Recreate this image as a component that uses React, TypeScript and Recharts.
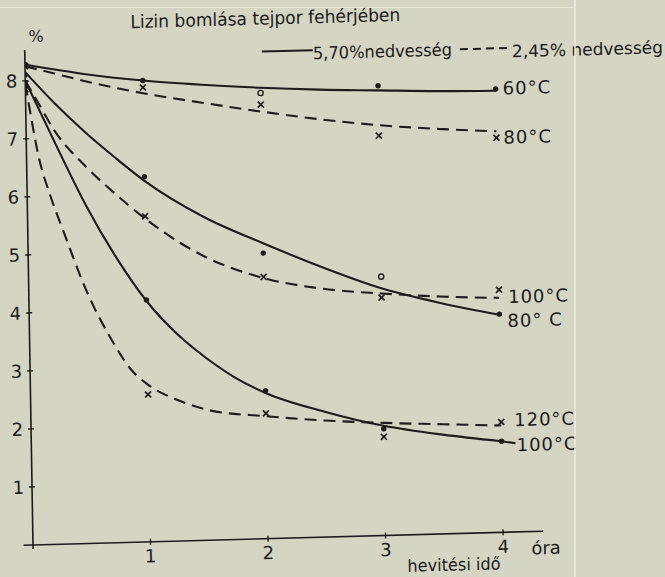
import React from 'react';
import { ComposedChart, Line, Scatter, XAxis, YAxis, ReferenceLine, LabelList } from 'recharts';

// ---------- data ----------
const xTicks = [1, 2, 3, 4];
const yTicks = [1, 2, 3, 4, 5, 6, 7, 8];
const measHours = [0, 1, 2, 3, 4];

// fitted curves, 5.70 % moisture (solid)
const s60Hours = [0, 0.5, 1, 1.5, 2, 2.5, 3, 3.5, 4];
const s60Values = [8.28, 8.09, 7.95, 7.85, 7.77, 7.71, 7.67, 7.63, 7.61];
const s80Hours = [0, 0.25, 0.5, 0.75, 1, 1.5, 2, 2.5, 3, 3.5, 4];
const s80Values = [8.15, 7.59, 7.09, 6.64, 6.22, 5.57, 5.09, 4.65, 4.26, 3.98, 3.75];
const s100Hours = [0, 0.25, 0.5, 0.75, 1, 1.25, 1.5, 1.75, 2, 2.5, 3, 3.5, 4];
const s100Values = [8.0, 6.89, 5.82, 4.91, 4.15, 3.58, 3.14, 2.78, 2.51, 2.16, 1.89, 1.71, 1.57];

// fitted curves, 2.45 % moisture (dashed)
const d80Hours = [0, 0.25, 0.5, 1, 1.5, 2, 2.5, 3, 3.5, 4];
const d80Values = [8.25, 8.11, 7.97, 7.73, 7.54, 7.36, 7.2, 7.07, 6.98, 6.91];
const d100Hours = [0, 0.1, 0.25, 0.5, 0.75, 1, 1.5, 2, 2.5, 3, 3.5, 4];
const d100Values = [8.0, 7.64, 7.1, 6.5, 6.01, 5.57, 4.89, 4.49, 4.28, 4.17, 4.09, 4.04];
const d120Hours = [0, 0.05, 0.1, 0.2, 0.3, 0.5, 0.7, 0.85, 1, 1.25, 1.5, 2, 2.5, 3, 3.5, 4];
const d120Values = [7.95, 7.3, 6.72, 5.99, 5.41, 4.31, 3.49, 3.0, 2.71, 2.43, 2.25, 2.11, 2.01, 1.94, 1.89, 1.84];

// measured points
const s60Meas = [8.28, 7.95, 7.68, 7.75, 7.64];
const s80Meas = [8.1, 6.29, 4.92, 4.46, 3.76];
const s100Meas = [7.95, 4.17, 2.55, 1.84, 1.57];
const d80Meas = [8.25, 7.83, 7.48, 6.89, 6.8];
const d100Meas = [7.95, 5.61, 4.51, 4.1, 4.18];
const d120Meas = [7.85, 2.54, 2.16, 1.7, 1.9];
const s60Open = [false, false, true, false, false];
const s80Open = [false, false, false, true, false];

const title = 'Lizin bomlása tejpor fehérjében';
const legendSolid = '5,70%nedvesség';
const legendDashed = '2,45% nedvesség';
const yUnit = '%';
const xUnit = 'óra';
const xTitle = 'hevitési idő';

// ---------- helpers ----------
const ink = '#1c1c1a';
const font = '"DejaVu Sans", sans-serif';
const bg = '#d5d5c4';

const toCurve = (hs: number[], vs: number[]) => hs.map((h, i) => ({ h, v: vs[i] }));
const toMeas = (vs: number[], open?: boolean[]) =>
  measHours.map((h, i) => ({ h, v: vs[i], open: open ? open[i] : false }));

const endLabel = (text: string, dx: number, dy: number, last: number, lead = 0) => (props: any) => {
  if (props.index !== last) return null;
  const x = props.x ?? props.viewBox?.x;
  const y = props.y ?? props.viewBox?.y;
  if (x == null || y == null) return null;
  return (
    <g>
      {lead > 0 && <line x1={x} x2={x + dx - 1} y1={y} y2={y + dy * 0.6} stroke={ink} strokeWidth={2} />}
      <text x={x + dx} y={y + dy + 6.5} fill={ink} fontFamily={font} fontSize={18} letterSpacing={1}>
        {text}
      </text>
    </g>
  );
};

const DotShape = (props: any) => {
  const { cx, cy, payload } = props;
  if (payload.open) return <circle cx={cx} cy={cy} r={2.6} fill="none" stroke={ink} strokeWidth={1.4} />;
  return <circle cx={cx} cy={cy} r={2.7} fill={ink} />;
};
const CrossShape = (props: any) => {
  const { cx, cy } = props;
  const s = 3;
  return (
    <g stroke={ink} strokeWidth={1.7}>
      <line x1={cx - s} y1={cy - s} x2={cx + s} y2={cy + s} />
      <line x1={cx - s} y1={cy + s} x2={cx + s} y2={cy - s} />
    </g>
  );
};

const YTick = (props: any) => {
  const { x, y, payload } = props;
  return (
    <g>
      <line x1={x - 3} x2={x + 3} y1={y} y2={y} stroke={ink} strokeWidth={1.4} />
      <text x={x - 8} y={y + 6.5} textAnchor="end" fill={ink} fontFamily={font} fontSize={18}>
        {payload.value}
      </text>
    </g>
  );
};
const XTick = (props: any) => {
  const { x, y, payload } = props;
  return (
    <g>
      <line x1={x} x2={x} y1={y - 3} y2={y + 3} stroke={ink} strokeWidth={1.4} />
      <text x={x} y={y + 20.5} textAnchor="middle" fill={ink} fontFamily={font} fontSize={18}>
        {payload.value}
      </text>
    </g>
  );
};

export default function App() {
  const lineCommon = { type: 'monotone' as const, dataKey: 'v', dot: false, isAnimationActive: false, stroke: ink, strokeWidth: 2.1 };
  const dash = '12 7';
  return (
    <div style={{ position: 'absolute', left: 0, top: 0, width: 665, height: 577, overflow: 'hidden', background: bg }}>
      <div
        style={{
          position: 'absolute',
          left: 0,
          top: 0,
          width: 700,
          height: 600,
          transform: 'matrix(1, -0.027, 0.0167, 1, 0, 0)',
          transformOrigin: '33px 545px',
        }}
      >
        <ComposedChart width={700} height={600} margin={{ top: 50, right: 157, bottom: 25, left: 0 }}>
          <XAxis
            type="number"
            dataKey="h"
            domain={[0, 4.34]}
            ticks={xTicks}
            allowDataOverflow
            height={30}
            tickSize={0}
            tickMargin={0}
            tick={<XTick />}
            axisLine={{ stroke: ink, strokeWidth: 1.6 }}
            tickLine={false}
          />
          <YAxis
            type="number"
            dataKey="v"
            domain={[0, 8.53]}
            ticks={yTicks}
            allowDataOverflow
            width={33}
            tickSize={0}
            tickMargin={0}
            tick={<YTick />}
            axisLine={{ stroke: ink, strokeWidth: 1.6 }}
            tickLine={false}
          />
          <ReferenceLine segment={[{ x: -0.08, y: 0 }, { x: 0, y: 0 }]} stroke={ink} strokeWidth={1.6} ifOverflow="visible" />
          <ReferenceLine segment={[{ x: 0, y: -0.07 }, { x: 0, y: 0 }]} stroke={ink} strokeWidth={1.6} ifOverflow="visible" />

          <Line {...lineCommon} data={toCurve(s60Hours, s60Values)} name="60°C 5,70%">
            <LabelList content={endLabel('60°C', 7, -2.5, s60Hours.length - 1)} />
          </Line>
          <Line {...lineCommon} data={toCurve(d80Hours, d80Values)} strokeDasharray={dash} name="80°C 2,45%">
            <LabelList content={endLabel('80°C', 7, 6, d80Hours.length - 1)} />
          </Line>
          <Line {...lineCommon} data={toCurve(s80Hours, s80Values)} name="80°C 5,70%">
            <LabelList content={endLabel('80° C', 8, 6, s80Hours.length - 1)} />
          </Line>
          <Line {...lineCommon} data={toCurve(d100Hours, d100Values)} strokeDasharray={dash} name="100°C 2,45%">
            <LabelList content={endLabel('100°C', 9, -1, d100Hours.length - 1)} />
          </Line>
          <Line {...lineCommon} data={toCurve(s100Hours, s100Values)} name="100°C 5,70%">
            <LabelList content={endLabel('100°C', 15, 4, s100Hours.length - 1, 1)} />
          </Line>
          <Line {...lineCommon} data={toCurve(d120Hours, d120Values)} strokeDasharray={dash} name="120°C 2,45%">
            <LabelList content={endLabel('120°C', 13, -5.5, d120Hours.length - 1)} />
          </Line>

          <Scatter data={toMeas(s60Meas, s60Open)} dataKey="v" shape={<DotShape />} isAnimationActive={false} />
          <Scatter data={toMeas(s80Meas, s80Open)} dataKey="v" shape={<DotShape />} isAnimationActive={false} />
          <Scatter data={toMeas(s100Meas)} dataKey="v" shape={<DotShape />} isAnimationActive={false} />
          <Scatter data={toMeas(d80Meas)} dataKey="v" shape={<CrossShape />} isAnimationActive={false} />
          <Scatter data={toMeas(d100Meas)} dataKey="v" shape={<CrossShape />} isAnimationActive={false} />
          <Scatter data={toMeas(d120Meas)} dataKey="v" shape={<CrossShape />} isAnimationActive={false} />
        </ComposedChart>
        <svg width={700} height={600} style={{ position: 'absolute', left: 0, top: 0, pointerEvents: 'none' }}>
          <g fill={ink} fontFamily={font}>
            <text x={139} y={31} fontSize={18} textLength={270} lengthAdjust="spacingAndGlyphs">{title}</text>
            <text x={37} y={42} fontSize={16}>{yUnit}</text>
            <line x1={270} x2={321} y1={58} y2={58} stroke={ink} strokeWidth={2} />
            <text x={321} y={67} fontSize={17} textLength={139} lengthAdjust="spacingAndGlyphs">{legendSolid}</text>
            <line x1={468} x2={520} y1={61} y2={61} stroke={ink} strokeWidth={2} strokeDasharray="8 5" />
            <text x={520} y={70.5} fontSize={17} textLength={151} lengthAdjust="spacingAndGlyphs">{legendDashed}</text>
            <text x={531} y={568} fontSize={18}>{xUnit}</text>
            <text x={407} y={582} fontSize={17} textLength={93} lengthAdjust="spacingAndGlyphs">{xTitle}</text>
          </g>
        </svg>
      </div>
      <div style={{ position: 'absolute', left: 574, top: 0, width: 2, height: 577, background: 'rgba(238,238,228,0.7)' }} />
      <div style={{ position: 'absolute', left: 0, top: 7, width: 575, height: 1, background: 'rgba(238,238,228,0.6)' }} />
    </div>
  );
}
